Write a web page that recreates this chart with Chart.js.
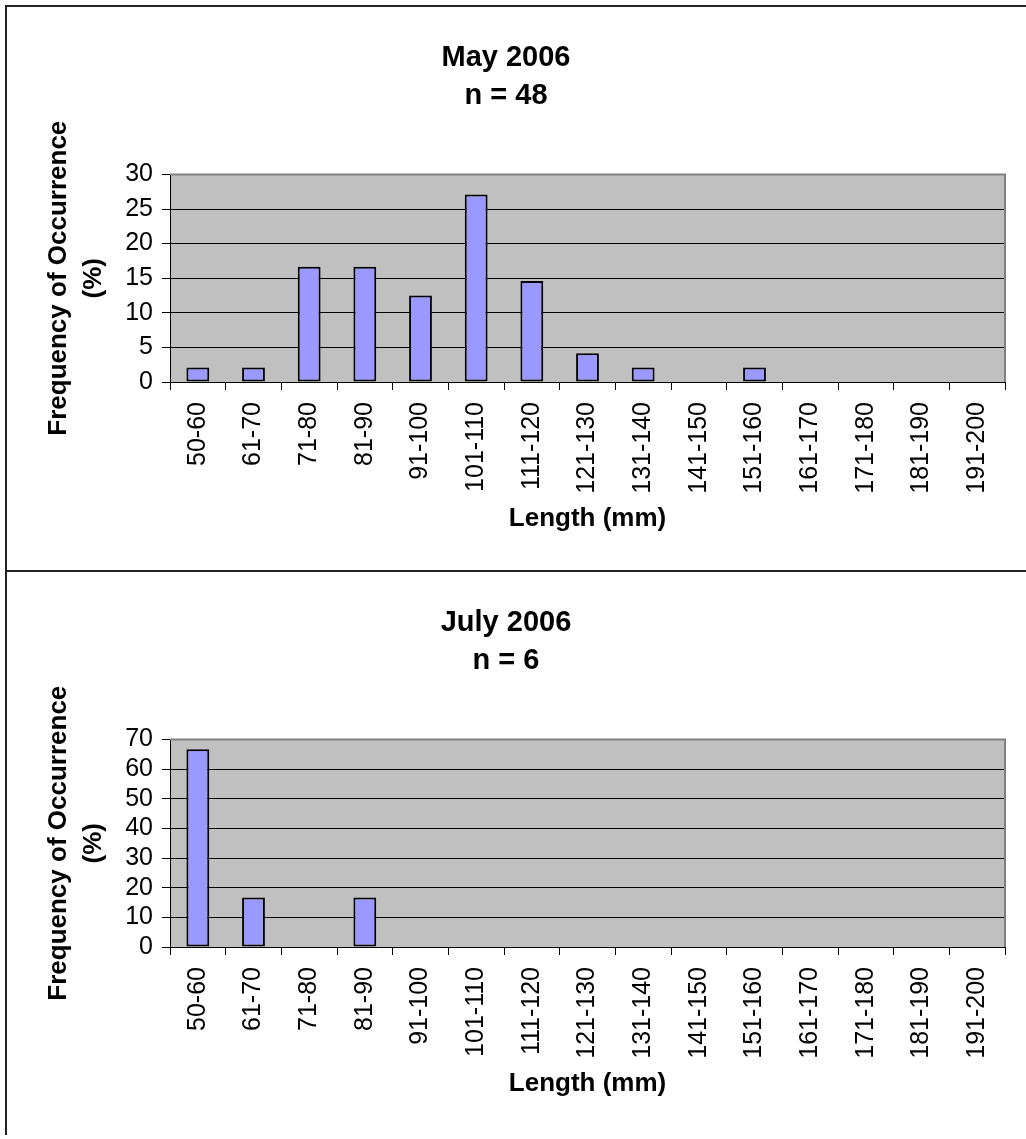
<!DOCTYPE html>
<html>
<head>
<meta charset="utf-8">
<script src="https://cdn.jsdelivr.net/npm/chart.js@4"></script>
<style>
    body { margin: 0; background: #fff; }
    #frame {
        position: absolute;
        left: 5px;
        top: 5px;
        width: 1040px;
        border-left: 2px solid #222;
        border-top: 2px solid #222;
    }
    .box { position: relative; width: 1019px; height: 563px; }
    #box1 { border-bottom: 2px solid #222; }
</style>
</head>
<body>
<div id="frame">
    <div class="box" id="box1"><canvas id="mayChart"></canvas></div>
    <div class="box" id="box2"><canvas id="julyChart"></canvas></div>
</div>
<script>
// Length classes (mm)
const categories = ['50-60', '61-70', '71-80', '81-90', '91-100', '101-110', '111-120',
    '121-130', '131-140', '141-150', '151-160', '161-170', '171-180', '181-190', '191-200'];

// Frequency of occurrence (%) - May 2006, n = 48
const mayValues = [2.08, 2.08, 16.67, 16.67, 12.5, 27.08, 14.58, 4.17, 2.08, 0, 2.08, 0, 0, 0, 0];
// Frequency of occurrence (%) - July 2006, n = 6
const julyValues = [66.67, 16.67, 0, 16.67, 0, 0, 0, 0, 0, 0, 0, 0, 0, 0, 0];

const mayTitle = ['May 2006', 'n = 48'];
const julyTitle = ['July 2006', 'n = 6'];
const mayTicks = { max: 30, step: 5 };
const julyTicks = { max: 70, step: 10 };

const FONT = "'Liberation Sans', Arial, sans-serif";
Chart.defaults.color = '#000';
Chart.defaults.font.family = FONT;

// grey plot area with grey top/right frame, like the old Excel charts
const plotBackground = {
    id: 'plotBackground',
    beforeDraw(chart) {
        const { ctx, chartArea: a } = chart;
        ctx.save();
        ctx.fillStyle = '#C0C0C0';
        ctx.fillRect(a.left, a.top, a.right - a.left, a.bottom - a.top);
        ctx.restore();
    },
    beforeDatasetsDraw(chart) {
        const { ctx, chartArea: a } = chart;
        ctx.save();
        ctx.strokeStyle = '#808080';
        ctx.lineWidth = 2;
        ctx.beginPath();
        ctx.moveTo(a.left, a.top);
        ctx.lineTo(a.right, a.top);
        ctx.lineTo(a.right, a.bottom);
        ctx.stroke();
        ctx.restore();
    }
};

function makeChart(canvasId, title, values, ticks) {
    const ctx = document.getElementById(canvasId).getContext('2d');
    return new Chart(ctx, {
        type: 'bar',
        data: {
            labels: categories,
            datasets: [{
                data: values,
                backgroundColor: '#9999FF',
                borderColor: '#000',
                borderWidth: 2,
                borderSkipped: false,
                barPercentage: 0.41,
                categoryPercentage: 1
            }]
        },
        options: {
            responsive: true,
            maintainAspectRatio: false,
            animation: false,
            layout: { padding: { left: 0, right: 21, top: 0, bottom: 0 } },
            plugins: {
                legend: { display: false },
                tooltip: { enabled: false },
                title: {
                    display: true,
                    text: title,
                    color: '#000',
                    font: { size: 29, weight: 'bold', lineHeight: 1.3 },
                    padding: { top: 32, bottom: 60 }
                }
            },
            scales: {
                x: {
                    grid: {
                        offset: true,
                        drawOnChartArea: false,
                        color: '#000',
                        tickLength: 8
                    },
                    border: { color: '#000', width: 1 },
                    ticks: {
                        autoSkip: false,
                        minRotation: 90,
                        maxRotation: 90,
                        padding: 12,
                        color: '#000',
                        font: { size: 25 }
                    },
                    title: {
                        display: true,
                        text: 'Length (mm)',
                        color: '#000',
                        font: { size: 26, weight: 'bold' },
                        padding: { top: 0, bottom: 36 }
                    },
                    afterFit(scale) { scale.height = 188; }
                },
                y: {
                    min: 0,
                    max: ticks.max,
                    grid: {
                        color: '#000',
                        lineWidth: 1,
                        tickLength: 8
                    },
                    border: { color: '#000', width: 1 },
                    ticks: {
                        stepSize: ticks.step,
                        autoSkip: false,
                        padding: 9,
                        color: '#000',
                        font: { size: 25 }
                    },
                    title: {
                        display: true,
                        text: ['Frequency of Occurrence', '(%)'],
                        color: '#000',
                        font: { size: 26, weight: 'bold', lineHeight: 1.35 },
                        padding: { top: 34, bottom: 0 }
                    },
                    afterFit(scale) { scale.width = 163; }
                }
            }
        },
        plugins: [plotBackground]
    });
}

makeChart('mayChart', mayTitle, mayValues, mayTicks);
makeChart('julyChart', julyTitle, julyValues, julyTicks);
</script>
</body>
</html>
